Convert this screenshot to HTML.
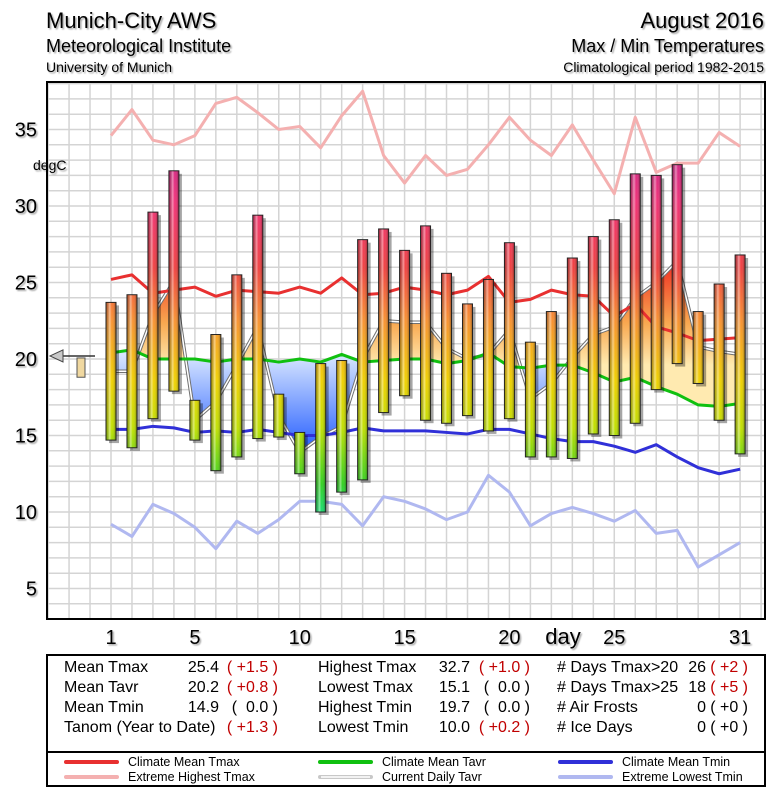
<!DOCTYPE html>
<html><head><meta charset="utf-8"><style>
html,body{margin:0;padding:0;background:#fff;}
svg text{font-family:"Liberation Sans",sans-serif;}
</style></head><body>
<svg id="c" width="775" height="800" xmlns="http://www.w3.org/2000/svg">
<defs>
<linearGradient id="barGrad" gradientUnits="userSpaceOnUse" x1="0" y1="140" x2="0" y2="540">
<stop offset="0" stop-color="#c0208c"/><stop offset="0.15" stop-color="#f03078"/><stop offset="0.32" stop-color="#f04040"/>
<stop offset="0.45" stop-color="#f89030"/><stop offset="0.6" stop-color="#f0d000"/><stop offset="0.72" stop-color="#c0e000"/>
<stop offset="0.86" stop-color="#30d020"/><stop offset="1" stop-color="#00e8c0"/></linearGradient>
<linearGradient id="shine" x1="0" y1="0" x2="1" y2="0">
<stop offset="0" stop-color="#000" stop-opacity="0.25"/><stop offset="0.35" stop-color="#fff" stop-opacity="0.45"/>
<stop offset="0.6" stop-color="#fff" stop-opacity="0"/><stop offset="1" stop-color="#000" stop-opacity="0.3"/></linearGradient>
<linearGradient id="warmGrad" gradientUnits="userSpaceOnUse" x1="0" y1="365" x2="0" y2="260">
<stop offset="0" stop-color="#ffeab0"/><stop offset="0.4" stop-color="#f8a850"/><stop offset="1" stop-color="#f02820"/></linearGradient>
<linearGradient id="coldGrad" gradientUnits="userSpaceOnUse" x1="0" y1="355" x2="0" y2="450">
<stop offset="0" stop-color="#d8e6ff"/><stop offset="1" stop-color="#2860ff"/></linearGradient>
<filter id="ts" x="-10%" y="-10%" width="130%" height="130%"><feDropShadow dx="1.5" dy="1.5" stdDeviation="0.8" flood-color="#000" flood-opacity="0.35"/></filter>
</defs>
<g id="hdr" filter="url(#ts)">
<text x="46" y="28" font-size="22">Munich-City AWS</text>
<text x="46" y="52" font-size="18">Meteorological Institute</text>
<text x="46" y="72" font-size="14">University of Munich</text>
<text x="764" y="28" font-size="22" text-anchor="end">August 2016</text>
<text x="764" y="52" font-size="18" text-anchor="end">Max / Min Temperatures</text>
<text x="764" y="72" font-size="14" text-anchor="end">Climatological period 1982-2015</text>
</g>
<g id="grid"></g>
<g id="fills"></g>
<g id="lines"></g>
<g id="bars"></g>
<g id="axes"></g>
<g id="table"></g>
</svg>
<script>
const days=[];for(let i=1;i<=31;i++)days.push(i);
const tmax=[23.7,24.2,29.6,32.3,17.3,21.6,25.5,29.4,17.7,15.2,19.7,19.9,27.8,28.5,27.1,28.7,25.6,23.6,25.2,27.6,21.1,23.1,26.6,28.0,29.1,32.1,32.0,32.7,23.1,24.9,26.8];
const tmin=[14.7,14.2,16.1,17.9,14.7,12.7,13.6,14.8,14.9,12.5,10.0,11.3,12.1,16.5,17.6,16.0,15.8,16.3,15.3,16.1,13.6,13.6,13.5,15.1,15.0,15.8,18.0,19.7,18.4,16.0,13.8];
const tavr=[19.2,19.2,22.9,25.1,16.0,17.2,19.6,22.1,16.3,13.9,14.9,15.6,20.0,22.5,22.4,22.4,20.7,20.0,20.3,21.9,17.4,18.4,20.1,21.6,22.1,24.0,25.0,26.4,20.8,20.5,20.3];
const climTmax=[25.2,25.5,24.3,24.5,24.7,24.1,24.5,24.4,24.3,24.7,24.3,25.3,24.2,24.3,24.7,24.5,24.2,24.5,25.4,23.7,23.9,24.5,24.2,24.1,22.8,23.6,22.1,21.7,21.2,21.3,21.4];
const climTavr=[20.4,20.6,20.0,20.0,20.0,19.8,20.0,20.0,19.8,20.0,19.8,20.3,19.8,19.9,20.0,20.0,19.7,19.9,20.4,19.5,19.4,19.6,19.6,19.1,18.5,18.8,18.2,17.7,17.0,16.9,17.1];
const climTmin=[15.4,15.4,15.6,15.5,15.2,15.3,15.2,15.4,15.2,15.0,15.0,15.2,15.5,15.3,15.3,15.3,15.2,15.1,15.4,15.4,15.1,14.8,14.6,14.6,14.3,13.9,14.4,13.6,12.9,12.5,12.8];
const extHigh=[34.6,36.3,34.3,34.0,34.6,36.7,37.1,36.1,35.0,35.2,33.8,35.9,37.5,33.3,31.5,33.3,32.0,32.4,34.0,35.8,34.3,33.3,35.3,33.0,30.8,35.8,32.2,32.8,32.8,34.8,33.9];
const extLow=[9.2,8.4,10.5,9.9,9.0,7.6,9.4,8.6,9.5,10.7,10.7,10.5,9.1,11.0,10.7,10.2,9.5,10.0,12.4,11.3,9.1,9.9,10.3,9.9,9.4,10.1,8.6,8.8,6.4,7.2,8.0];
const yTicks=[5,10,15,20,25,30,35];
const xTicks=[1,5,10,15,20,25,31];
const meanTavr=20.2, tanom=19.2;

const NS='http://www.w3.org/2000/svg';
const X=d=>111+(d-1)*20.97;
const Y=t=>359-(t-20)*15.3;
const L=47,R=765,T=82,B=619;
function mk(tag,attrs,parent){const e=document.createElementNS(NS,tag);for(const k in attrs)e.setAttribute(k,attrs[k]);parent.appendChild(e);return e;}
const G=id=>document.getElementById(id);

const grid=G('grid');
mk('rect',{x:L,y:T,width:R-L,height:B-T,fill:'#fff'},grid);
for(let t=3;t<=38;t++){const y=Y(t);if(y<T||y>B)continue;
 const ln=mk('line',{x1:L,x2:R,y1:y,y2:y,stroke:'#d4d4d4','stroke-width':1.5},grid);
 
 }
for(let d=-2;d<=33;d++){const x=X(d);if(x<=L||x>=R)continue;
 const ln=mk('line',{x1:x,x2:x,y1:T,y2:B,stroke:'#d4d4d4','stroke-width':1.5},grid);
 
 }

const fills=G('fills');
const ptsT=days.map((d,i)=>X(d)+','+Y(tavr[i]));
const ptsC=days.map((d,i)=>X(d)+','+Y(climTavr[i])).reverse();
const areaPts=ptsT.concat(ptsC).join(' ');
const cpA=mk('clipPath',{id:'above'},fills);
mk('polygon',{points:[L+','+T].concat(days.map((d,i)=>X(d)+','+Y(climTavr[i]))).concat([R+','+T]).join(' ')},cpA);
const cpB=mk('clipPath',{id:'below'},fills);
mk('polygon',{points:[L+','+B].concat(days.map((d,i)=>X(d)+','+Y(climTavr[i]))).concat([R+','+B]).join(' ')},cpB);
const fw=mk('polygon',{points:areaPts,fill:'url(#warmGrad)','clip-path':'url(#above)'},fills);


const fc=mk('polygon',{points:areaPts,fill:'url(#coldGrad)','clip-path':'url(#below)'},fills);



const lines=G('lines');
function line(arr,color,w,name){const p=days.map((d,i)=>X(d)+','+Y(arr[i])).join(' ');
 const e=mk('polyline',{points:p,fill:'none',stroke:color,'stroke-width':w,'stroke-linejoin':'round'},lines);
 
 return e;}
line(extHigh,'#f4b0b0',3,'extreme-highest-tmax-line');
line(extLow,'#b0b8f0',3,'extreme-lowest-tmin-line');
line(tavr,'#707070',3.5,'current-tavr-outline');
line(tavr,'#ffffff',1.5,'current-daily-tavr-line');
line(climTmax,'#e83030',3,'climate-mean-tmax-line');
line(climTavr,'#10c010',3,'climate-mean-tavr-line');
line(climTmin,'#3030d8',3,'climate-mean-tmin-line');

const bars=G('bars');
days.forEach((d,i)=>{const x=X(d)-5,y=Y(tmax[i]),h=Y(tmin[i])-Y(tmax[i]);
 const s=mk('rect',{x:x+3,y:y+3,width:10,height:h,fill:'#000',opacity:0.35},bars);
 
 
 const b=mk('rect',{x:x,y:y,width:10,height:h,fill:'url(#barGrad)',stroke:'#222','stroke-width':1},bars);
 
 
 mk('rect',{x:x+0.5,y:y+0.5,width:9,height:Math.max(0,h-1),fill:'url(#shine)'},bars);
});

const ax=G('axes');
mk('rect',{x:L,y:T,width:R-L,height:B-T,fill:'none',stroke:'#000','stroke-width':2},ax);
const lblG=mk('g',{filter:'url(#ts)'},ax);
yTicks.forEach(t=>{const e=mk('text',{x:37,y:Y(t)+7,'font-size':20,'text-anchor':'end'},lblG);e.textContent=t;
 
 });
const yt=mk('text',{x:33,y:170,'font-size':14},lblG);yt.textContent='degC';


xTicks.forEach(d=>{const e=mk('text',{x:X(d),y:644,'font-size':20,'text-anchor':'middle'},lblG);e.textContent=d;
 
 });
const xt=mk('text',{x:563,y:644,'font-size':22,'text-anchor':'middle'},lblG);xt.textContent='day';


const mm=mk('g',{},ax);


mk('line',{x1:52,x2:95,y1:Y(meanTavr),y2:Y(meanTavr),stroke:'#333','stroke-width':1.5},mm);
mk('polygon',{points:`50,${Y(meanTavr)} 63,${Y(meanTavr)-6} 63,${Y(meanTavr)+6}`,fill:'#c8c8c8',stroke:'#444'},mm);
mk('rect',{x:77,y:Y(meanTavr)+2,width:8,height:Y(tanom)-Y(meanTavr)+4,fill:'#f0d8a0',stroke:'#555'},mm);

const tb=G('table');
const box=mk('rect',{x:47,y:655,width:718,height:131,fill:'#fff',stroke:'#000','stroke-width':2},tb);


mk('line',{x1:47,x2:765,y1:752,y2:752,stroke:'#000','stroke-width':2},tb);
function tx(x,y,s,anchor,color,size,name){const e=mk('text',{x:x,y:y,'font-size':size||16,'text-anchor':anchor||'start',fill:color||'#000'},tb);e.textContent=s;
 
 return e;}
const rows=[672,692,712,732];
const red='#c00000';
const c1=[['Mean Tmax','25.4','( +1.5 )',red],['Mean Tavr','20.2','( +0.8 )',red],['Mean Tmin','14.9','(  0.0 )','#000'],['Tanom (Year to Date)','','( +1.3 )',red]];
const c2=[['Highest Tmax','32.7','( +1.0 )',red],['Lowest Tmax','15.1','(  0.0 )','#000'],['Highest Tmin','19.7','(  0.0 )','#000'],['Lowest Tmin','10.0','( +0.2 )',red]];
const c3=[['# Days Tmax>20','26','( +2 )',red],['# Days Tmax>25','18','( +5 )',red],['# Air Frosts','0','( +0 )','#000'],['# Ice Days','0','( +0 )','#000']];
[[c1,64,219,278],[c2,318,470,530],[c3,557,706,748]].forEach(([col,xl,xv,xp],ci)=>{
 col.forEach((r,ri)=>{const y=rows[ri];
  tx(xl,y,r[0],'start','#000',16,'stat-label-'+ci+'-'+ri);
  if(r[1])tx(xv,y,r[1],'end','#000',16,'stat-value-'+ci+'-'+ri);
  const p=tx(xp,y,r[2],'end',r[3],16,'stat-anomaly-'+ci+'-'+ri);p.setAttribute('xml:space','preserve');p.style.whiteSpace='pre';
 });});
const leg=[[66,766,'#e83030','Climate Mean Tmax'],[66,781,'#f4b0b0','Extreme Highest Tmax'],[320,766,'#10c010','Climate Mean Tavr'],[320,781,'#c8c8c8','Current Daily Tavr'],[560,766,'#3030d8','Climate Mean Tmin'],[560,781,'#b0b8f0','Extreme Lowest Tmin']];
leg.forEach(([x,y,c,s])=>{
 const l=mk('line',{x1:x,x2:x+51,y1:y-4,y2:y-4,stroke:c,'stroke-width':4,'stroke-linecap':'round'},tb);
 
 
 if(s==='Current Daily Tavr')mk('line',{x1:x+1,x2:x+50,y1:y-4,y2:y-4,stroke:'#fff','stroke-width':1.5},tb);
 tx(x+62,y,s,'start','#000',12.5,'legend-entry');
});
</script>
</body></html>
